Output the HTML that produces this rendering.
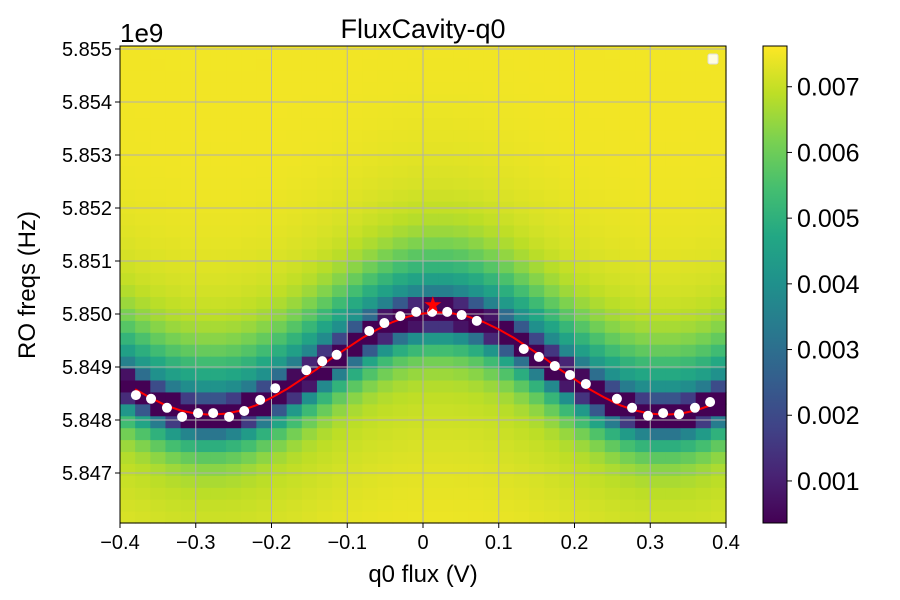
<!DOCTYPE html>
<html><head><meta charset="utf-8"><style>
body{margin:0;background:#fff;}
svg{display:block;font-family:"Liberation Sans","DejaVu Sans",sans-serif;}
</style></head><body>
<svg id="chart" width="900" height="600" viewBox="0 0 900 600" xmlns="http://www.w3.org/2000/svg">
<g id="heat"></g>
<g id="grid"></g>
<path id="fitline" fill="none" stroke="#ff0000" stroke-width="2"/>
<g id="dots"></g>
<g id="star"></g>
<rect x="120" y="46" width="606" height="477" fill="none" stroke="#000" stroke-width="1"/>
<rect x="708" y="54" width="10" height="10" rx="2" fill="#fffde0" stroke="#ddd"/>
<g id="axes"></g>
<text x="423" y="38" font-size="27" text-anchor="middle">FluxCavity-q0</text>
<text x="120" y="42" font-size="26">1e9</text>
<text x="423" y="582" font-size="24" text-anchor="middle">q0 flux (V)</text>
<text x="0" y="0" font-size="24" text-anchor="middle" transform="translate(35,285) rotate(-90)">RO freqs (Hz)</text>
<defs><linearGradient id="cbg" x1="0" y1="1" x2="0" y2="0"></linearGradient></defs>
<rect x="763" y="46" width="24" height="477" fill="url(#cbg)" stroke="#000" stroke-width="1"/>
<g id="cbticks"></g>
</svg>
<script>
// ---- data ----
const xTicks = [-0.4,-0.3,-0.2,-0.1,0,0.1,0.2,0.3,0.4];
const xTickLabels = ["\u22120.4","\u22120.3","\u22120.2","\u22120.1","0","0.1","0.2","0.3","0.4"];
const yTicks = [5.847,5.848,5.849,5.850,5.851,5.852,5.853,5.854,5.855];
const yTickLabels = ["5.847","5.848","5.849","5.850","5.851","5.852","5.853","5.854","5.855"];
const cbTicks = [0.001,0.002,0.003,0.004,0.005,0.006,0.007];
const cbTickLabels = ["0.001","0.002","0.003","0.004","0.005","0.006","0.007"];
const dotX = [-0.379,-0.359,-0.338,-0.318,-0.297,-0.277,-0.256,-0.236,-0.215,-0.195,-0.154,-0.133,-0.114,-0.071,-0.051,-0.030,-0.009,0.012,0.032,0.051,0.071,0.133,0.153,0.174,0.194,0.215,0.256,0.276,0.297,0.317,0.338,0.359,0.379];
const dotF = [5.84847,5.84840,5.84823,5.84806,5.84813,5.84813,5.84806,5.84817,5.84838,5.84860,5.84894,5.84911,5.84923,5.84968,5.84983,5.84996,5.85004,5.85004,5.85004,5.84998,5.84987,5.84934,5.84919,5.84902,5.84885,5.84868,5.84840,5.84823,5.84808,5.84813,5.84811,5.84823,5.84834];
const fitX0 = -0.38, fitStep = 0.02;
const fitF = [5.84858,5.84842,5.84828,5.84818,5.84812,5.84810,5.84812,5.84818,5.84828,5.84842,5.84858,5.84877,5.84896,5.84917,5.84936,5.84955,5.84971,5.84985,5.84995,5.85001,5.85003,5.85001,5.84995,5.84985,5.84971,5.84955,5.84936,5.84917,5.84896,5.84877,5.84858,5.84842,5.84828,5.84818,5.84812,5.84810,5.84812,5.84818,5.84828];
const starPt = [0.013, 5.85017];
// per-column resonance centre (GHz), 40 columns from -0.39 to 0.39
const resF = [5.84866,5.84850,5.84835,5.84823,5.84815,5.84811,5.84811,5.84815,5.84823,5.84835,5.84850,5.84867,5.84886,5.84906,5.84926,5.84945,5.84963,5.84978,5.84990,5.84998,5.85002,5.85002,5.84998,5.84990,5.84978,5.84963,5.84945,5.84926,5.84906,5.84886,5.84867,5.84850,5.84835,5.84823,5.84815,5.84811,5.84811,5.84815,5.84823,5.84835];
const nRows = 40, fMin = 5.84606, fMax = 5.85506;

// ---- scales ----
const X0=120,X1=726,Y0=46,Y1=523;
const xs = v => X0 + (v+0.4)/0.8*(X1-X0);
const ys = f => 49 + (5.855-f)/0.001*53;
const vMin=0.00036, vMax=0.00762;
const cs = v => 523 - (v-vMin)/(vMax-vMin)*477;
const NS="http://www.w3.org/2000/svg";
function mk(t,a,p){const e=document.createElementNS(NS,t);for(const k in a)e.setAttribute(k,a[k]);p.appendChild(e);return e;}
const vir=[[68,1,84],[72,35,116],[64,67,135],[52,94,141],[41,120,142],[32,144,140],[34,167,132],[68,190,112],[121,209,81],[189,222,38],[253,231,37]];
function vcol(t){t=Math.max(0,Math.min(1,t));const p=t*10,i=Math.min(9,Math.floor(p)),f=p-i;const a=vir[i],b=vir[i+1];return 'rgb('+a.map((c,j)=>Math.round(c+(b[j]-c)*f)).join(',')+')';}
function sq(x){return x*x;}

// heatmap
const heatG=document.getElementById('heat');
const cw=(X1-X0)/resF.length, rh=(Y1-Y0)/nRows, df=(fMax-fMin)/nRows;
resF.forEach((r,i)=>{
  for(let j=0;j<nRows;j++){
    const f=fMin+(j+0.5)*df; const d=(f-r)*1000;
    const w2 = d>0?1.1:0.75;
    const v=0.0075-0.0052*Math.exp(-sq(d/0.28))-0.0032*Math.exp(-sq(d/w2))-0.0008*Math.exp(-sq(d/2.5));
    const cell=mk('rect',{x:X0+i*cw,y:Y1-(j+1)*rh,width:cw+0.6,height:rh+0.6,fill:vcol((v-vMin)/(vMax-vMin))},heatG);
    
    
  }
});
// grid & axes
const gridG=document.getElementById('grid'), axesG=document.getElementById('axes');
xTicks.forEach((t,i)=>{const x=xs(t);
  mk('line',{x1:x,x2:x,y1:Y0,y2:Y1,stroke:'#b0b0b0','stroke-width':1},gridG);
  mk('line',{x1:x,x2:x,y1:Y1,y2:Y1+5,stroke:'#000'},axesG);
  const tx=mk('text',{x:x,y:Y1+26,'font-size':20,'text-anchor':'middle'},axesG);tx.textContent=xTickLabels[i];
  
  });
yTicks.forEach((t,i)=>{const y=ys(t);
  mk('line',{x1:X0,x2:X1,y1:y,y2:y,stroke:'#b0b0b0','stroke-width':1},gridG);
  mk('line',{x1:X0-5,x2:X0,y1:y,y2:y,stroke:'#000'},axesG);
  const tx=mk('text',{x:X0-8,y:y+7,'font-size':20,'text-anchor':'end'},axesG);tx.textContent=yTickLabels[i];
  
  });
// fit line
document.getElementById('fitline').setAttribute('d',fitF.map((f,i)=>(i?'L':'M')+xs(fitX0+i*fitStep).toFixed(1)+','+ys(f).toFixed(1)).join(''));
// dots
const dotsG=document.getElementById('dots');
dotX.forEach((x,i)=>{const c=mk('circle',{cx:xs(x),cy:ys(dotF[i]),r:5,fill:'#fff'},dotsG);
  
  });
// star
(function(){const cx=xs(starPt[0]),cy=ys(starPt[1]);let p='';for(let k=0;k<10;k++){const r=k%2?3.5:9,a=-Math.PI/2+k*Math.PI/5;p+=(k?'L':'M')+(cx+r*Math.cos(a)).toFixed(1)+','+(cy+r*Math.sin(a)).toFixed(1);}
  mk('path',{d:p+'Z',fill:'#ff0000'},document.getElementById('star'));})();
// colorbar
const gradEl=document.getElementById('cbg');
for(let k=0;k<=10;k++)mk('stop',{offset:(k/10),'stop-color':vcol(k/10)},gradEl);
const cbtG=document.getElementById('cbticks');
cbTicks.forEach((t,i)=>{const y=cs(t);mk('line',{x1:787,x2:792,y1:y,y2:y,stroke:'#000'},cbtG);
  const tx=mk('text',{x:797,y:y+9,'font-size':25},cbtG);tx.textContent=cbTickLabels[i];
  
  });
</script>
</body></html>
